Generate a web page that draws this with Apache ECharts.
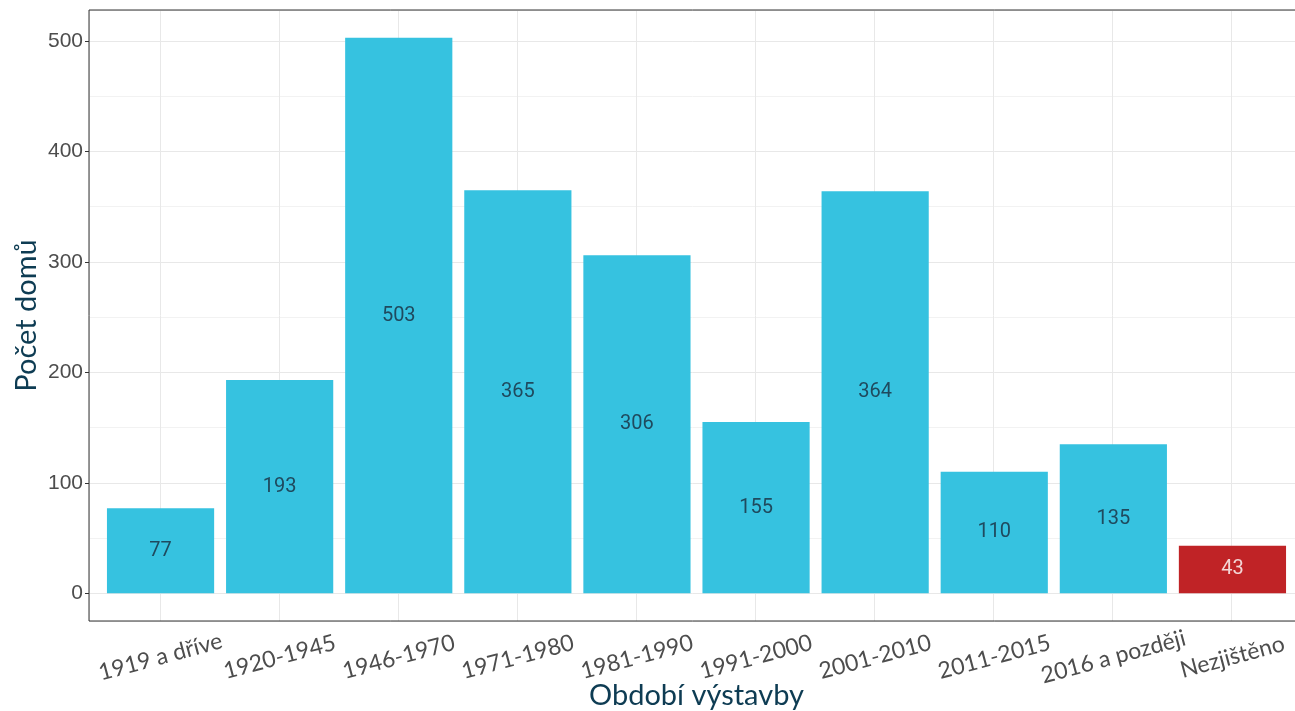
<!DOCTYPE html>
<html>
<head>
<meta charset="utf-8">
<script src="https://cdn.jsdelivr.net/npm/echarts@6/dist/echarts.min.js"></script>
<style>
	html, body { margin: 0; padding: 0; background: #fff; }
	#chart { width: 1295px; height: 711px; }
</style>
</head>
<body>
<div id="chart"></div>
<script>
var categories = ['1919 a dříve', '1920-1945', '1946-1970', '1971-1980', '1981-1990',
	'1991-2000', '2001-2010', '2011-2015', '2016 a později', 'Nezjištěno'];
var counts = [77, 193, 503, 365, 306, 155, 364, 110, 135, 43];
var yTickMin = 0;
var yTickMax = 500;
var yTickStep = 100;

var cyan = '#36c2e0';
var red = '#c02326';
var titleColor = '#0e3c53';

// ggplot style expansion: 5% of the max on the value axis, 0.6 of a slot on the categories
var yMin = -0.05 * 503;
var yMax = 503 * 1.05;

// panel geometry
var panelTop = 10, panelHeight = 611;
var pxPerUnit = panelHeight / (yMax - yMin);
var tickTop = panelTop + (yMax - yTickMax) * pxPerUnit;
var tickHeight = (yTickMax - yTickMin) * pxPerUnit;

var myChart = echarts.init(document.getElementById('chart'));

var barData = counts.map(function(v, i) {
	var item = {value: v};
	if (categories[i] === 'Nezjištěno') {
		item.itemStyle = {color: red};
		item.label = {color: '#f3d6d6'};
	}
	return item;
});

var option = {
	animation: false,
	grid: [
		// outer panel, with its border and the grid lines
		{left: 89, top: panelTop, width: 1214, height: panelHeight, show: true, borderColor: '#333', borderWidth: 1, z: 5,
			outerBoundsMode: 'none', containLabel: false},
		// inner grid for the bars (0.5 slot padding each side)
		{left: 101, top: panelTop, width: 1191, height: panelHeight, outerBoundsMode: 'none', containLabel: false},
		// grid spanning only 0..500, for the y ticks and labels
		{left: 89, top: tickTop, width: 1214, height: tickHeight, outerBoundsMode: 'none', containLabel: false}
	],
	xAxis: [
		{
			gridIndex: 0, type: 'value', min: -0.6, max: 9.6, splitNumber: 10,
			axisLine: {show: false}, axisTick: {show: false}, axisLabel: {show: false},
			splitLine: {lineStyle: {color: '#e8e8e8'}}
		},
		{
			gridIndex: 1, type: 'category', data: categories, boundaryGap: true,
			axisLine: {show: false},
			axisTick: {alignWithLabel: true, length: 4, lineStyle: {color: '#333'}},
			axisLabel: {
				interval: 0, rotate: 15, align: 'center', verticalAlign: 'middle', margin: 36,
				fontSize: 23, color: '#4d4d4d', fontFamily: 'Lato'
			},
			name: 'Období výstavby', nameLocation: 'middle', nameGap: 60, nameMoveOverlap: false,
			nameTextStyle: {fontSize: 29, color: titleColor, fontFamily: 'Lato'}
		},
		{
			gridIndex: 2, type: 'value', show: false
		}
	],
	yAxis: [
		{
			gridIndex: 0, type: 'value', min: yMin, max: yMax, splitNumber: 5, z: 1,
			axisLine: {show: false}, axisTick: {show: false}, axisLabel: {show: false},
			splitLine: {lineStyle: {color: '#e8e8e8'}},
			name: 'Počet domů', nameLocation: 'middle', nameGap: 48, nameMoveOverlap: false,
			nameTextStyle: {fontSize: 29, color: titleColor, fontFamily: 'Lato'}
		},
		{
			// minor grid lines every 50
			gridIndex: 0, type: 'value', min: yMin, max: yMax, splitNumber: 11, z: 0,
			axisLine: {show: false}, axisTick: {show: false}, axisLabel: {show: false},
			splitLine: {lineStyle: {color: '#f2f2f2'}}
		},
		{
			gridIndex: 1, type: 'value', min: yMin, max: yMax, show: false
		},
		{
			gridIndex: 2, type: 'value', min: yTickMin, max: yTickMax, interval: yTickStep,
			axisLine: {show: false},
			axisTick: {show: true, length: 4, lineStyle: {color: '#333'}},
			axisLabel: {fontSize: 21, color: '#4d4d4d', margin: 6, fontFamily: 'Liberation Sans'},
			splitLine: {show: false}
		}
	],
	series: [
		{
			type: 'bar',
			xAxisIndex: 1,
			yAxisIndex: 2,
			barWidth: '90%',
			itemStyle: {color: cyan},
			label: {
				show: true, position: 'inside', fontSize: 20, color: '#1f4a5e', fontFamily: 'Roboto'
			},
			data: barData
		}
	]
};

myChart.setOption(option);
</script>
</body>
</html>
